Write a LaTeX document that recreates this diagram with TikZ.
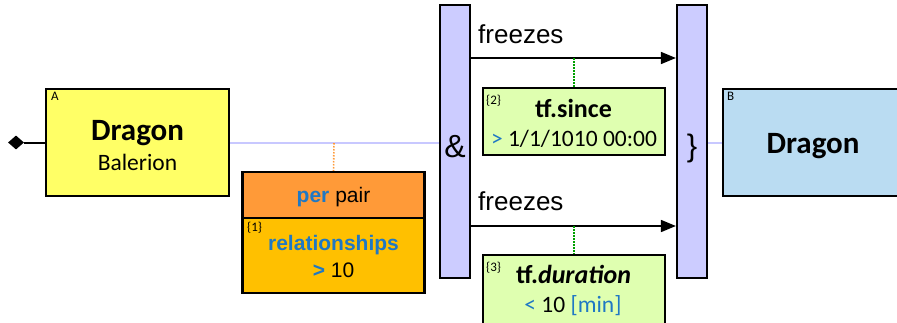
\documentclass[tikz,border=0pt]{standalone}
\usepackage{fontspec}
\setmainfont{Liberation Sans}
\newfontfamily\calfont{Carlito}
\usetikzlibrary{arrows.meta,shapes.geometric}
\definecolor{ayellow}{HTML}{FFFF66}
\definecolor{bblue}{HTML}{BADCF2}
\definecolor{barcol}{HTML}{CCCCFF}
\definecolor{linecol}{HTML}{C8C8FF}
\definecolor{orangetop}{HTML}{FF9A38}
\definecolor{goldcol}{HTML}{FFC000}
\definecolor{greencol}{HTML}{DFFFB0}
\definecolor{txtblue}{HTML}{1F78C4}
\definecolor{dotorange}{HTML}{FF9A38}
\definecolor{dotgreen}{HTML}{00A000}
\newcommand{\fsz}[1]{\fontsize{#1}{#1}\selectfont}
\begin{document}
\begin{tikzpicture}[x=1pt,y=-1pt,
  box/.style={draw=black,line width=2.2pt,inner sep=0pt},
  barbox/.style={box,fill=barcol,minimum width=30pt,minimum height=273pt},
  txt/.style={anchor=base,inner sep=0pt},
  tiny/.style={anchor=north west,inner sep=0pt,font=\calfont\fsz{13}},
  conn/.style={line width=2pt,linecol},
  arr/.style={line width=1.6pt,black,-{Triangle[length=15pt,width=12pt]}},
  dotline/.style={line width=1.6pt,dash pattern=on 1.5pt off 1.5pt}]
\useasboundingbox (0,0) rectangle (897,322);
\clip (0,0) rectangle (897,322);
% bars
\node[barbox] (bar1) at (455,141.5) {};
\node[barbox] (bar2) at (692,141.5) {};
% box A
\node[box,fill=ayellow,minimum width=183pt,minimum height=107pt] (A) at (137.5,142.5) {};
\node[tiny] (Alab) at (51,92) {A};
\node[txt,font=\calfont\bfseries\fsz{31}] (Atitle) at (137.5,140) {Dragon};
\node[txt,font=\calfont\fsz{23.5}] (Asub) at (137.5,170) {Balerion};
% diamond
\node[diamond,fill=black,inner sep=0pt,minimum width=16pt,minimum height=14pt] (dia) at (16,142.5) {};
\draw[line width=2pt] (dia) -- (A.west);
% connectors to bars
\draw[conn] (A.east) -- (A.east -| bar1.west);
% box B
\node[box,fill=bblue,minimum width=190pt,minimum height=107pt] (B) at (818,142.5) {};
\node[tiny] (Blab) at (727,92) {B};
\node[txt,font=\calfont\bfseries\fsz{31}] (Btitle) at (813,153) {Dragon};
\draw[conn] (bar2.east |- B.west) -- (B.west);
% symbols
\node[txt,font=\fsz{32}] (amp) at (455,157) {\&};
\node[txt,font=\fsz{31}] (brace) at (692,156) {\}};
% orange box
\node[box,fill=orangetop,minimum width=182pt,minimum height=46pt] (per) at (333.5,195) {};
\node[box,fill=goldcol,minimum width=182pt,minimum height=75pt] (rel) at (333.5,255.5) {};
\node[txt,font=\fsz{21}] (pertxt) at (333.5,202) {\textcolor{txtblue}{\bfseries per} pair};
\node[tiny,font=\calfont\fsz{13}] (rellab) at (247,222) {\{1\}};
\node[txt,font=\bfseries\fsz{21},txtblue] (reltxt) at (333.5,250) {relationships};
\node[txt,font=\fsz{21}] (relval) at (333.5,277) {\textcolor{txtblue}{\bfseries >} 10};
\coordinate (perdot) at (334,143);
\draw[dotline,dotorange] (perdot) -- (per.north);
% arrows
\coordinate (a1) at (470,58);
\coordinate (a2) at (470,226);
\draw[arr] (a1) -- (a1 -| bar2.west);
\draw[arr] (a2) -- (a2 -| bar2.west);
\node[txt,anchor=base west,font=\fsz{26}] (fr1) at (478,43) {freezes};
\node[txt,anchor=base west,font=\fsz{26}] (fr2) at (478,210) {freezes};
% green boxes
\node[box,fill=greencol,minimum width=182pt,minimum height=67pt] (since) at (574,121.5) {};
\node[tiny,font=\calfont\fsz{13}] (slab) at (486,95) {\{2\}};
\node[txt,font=\calfont\bfseries\fsz{26}] (stxt) at (573.5,117) {tf.since};
\node[txt,font=\calfont\fsz{23.5}] (sval) at (574,146) {\textcolor{txtblue}{>} 1/1/1010 00:00};
\coordinate (g1) at (574,58);
\draw[dotline,dotgreen] (g1) -- (since.north);
\node[box,fill=greencol,minimum width=182pt,minimum height=72pt] (dur) at (574,291) {};
\node[tiny,font=\calfont\fsz{13}] (dlab) at (486,262) {\{3\}};
\node[txt,font=\calfont\bfseries\fsz{26}] (dtxt) at (573.5,283) {tf.\textit{duration}};
\node[txt,font=\calfont\fsz{23.5}] (dval) at (573,312) {\textcolor{txtblue}{<} 10 \textcolor{txtblue}{[min]}};
\coordinate (g2) at (574,226);
\draw[dotline,dotgreen] (g2) -- (dur.north);
\end{tikzpicture}
\end{document}
